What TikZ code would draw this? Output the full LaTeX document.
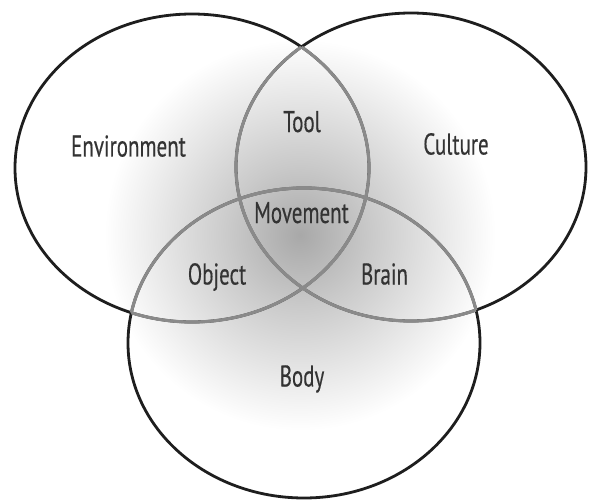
\documentclass[tikz,border=0pt]{standalone}
\usepackage{fontspec}
\setmainfont[FakeStretch=0.70,FakeBold=0.35]{PT Sans}
\definecolor{outline}{HTML}{1E1E1E}
\definecolor{innerline}{HTML}{8A8A8A}
\definecolor{txt}{HTML}{333333}
\pgfdeclareradialshading{vennshade}{\pgfpoint{0bp}{0bp}}{color(0bp)=(black!34); color(70bp)=(black!21); color(195bp)=(white); color(320bp)=(white)}
\tikzset{
  outerring/.style={draw=outline, line width=2.8pt},
  innerring/.style={draw=innerline, line width=3.1pt},
  lbl/.style={text=txt, inner sep=0pt, anchor=base, font=\fontsize{30}{34}\selectfont}
}
\begin{document}
\begin{tikzpicture}[x=1pt,y=-1pt]
\useasboundingbox (0,0) rectangle (589,500);
\def\ellL{(192,168) ellipse [x radius=177pt, y radius=154pt]}
\def\ellR{(411,167) ellipse [x radius=175pt, y radius=154pt]}
\def\ellB{(304,343) ellipse [x radius=176pt, y radius=155pt]}
% shading inside the three ellipses
\foreach \e in {\ellL,\ellR,\ellB}{
  \begin{scope}
    \clip \e;
    \node[inner sep=0pt] (sh) at (300,235) {\pgfuseshading{vennshade}};
  \end{scope}
}
% outlines
\draw[outerring] \ellL;
\draw[outerring] \ellR;
\draw[outerring] \ellB;
% inner arcs in gray
\begin{scope}\clip \ellR; \draw[innerring] \ellL; \draw[innerring] \ellB; \end{scope}
\begin{scope}\clip \ellL; \draw[innerring] \ellR; \draw[innerring] \ellB; \end{scope}
\begin{scope}\clip \ellB; \draw[innerring] \ellL; \draw[innerring] \ellR; \end{scope}
% labels
\node[lbl] (env) at (128.5,156.5) {Environment};
\node[lbl] (cul) at (456,154.5) {Culture};
\node[lbl] (tool) at (302,132) {Tool};
\node[lbl] (mov) at (301.5,223) {Movement};
\node[lbl] (obj) at (217,284.5) {Object};
\node[lbl] (brain) at (384.5,284.5) {Brain};
\node[lbl] (body) at (302,386.5) {Body};
\end{tikzpicture}
\end{document}
